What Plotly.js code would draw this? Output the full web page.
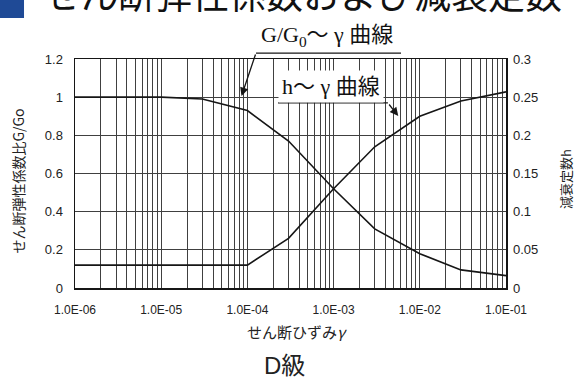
<!DOCTYPE html>
<html>
<head>
<meta charset="utf-8">
<script src="https://cdn.plot.ly/plotly-3.0.1.min.js"></script>
<style>
  html, body { margin: 0; padding: 0; background: #fff; overflow: hidden; }
  #chart { width: 576px; height: 379px; }
</style>
</head>
<body>
<div id="chart"></div>
<script>
// Shear strain levels (log scale)
const strain = [1e-6, 1e-5, 3e-5, 1e-4, 3e-4, 1e-3, 3e-3, 1e-2, 3e-2, 1e-1];
// Shear modulus ratio G/G0 (left axis)
const gRatio = [1.0, 1.0, 0.99, 0.93, 0.77, 0.52, 0.31, 0.18, 0.095, 0.065];
// Damping ratio h (right axis)
const damping = [0.03, 0.03, 0.03, 0.03, 0.065, 0.13, 0.185, 0.225, 0.245, 0.257];

// Axis tick labels
const decadeLabels = ['1.0E-06', '1.0E-05', '1.0E-04', '1.0E-03', '1.0E-02', '1.0E-01'];
const leftTicks = [0, 0.2, 0.4, 0.6, 0.8, 1.0, 1.2];
const leftTickText = ['0', '0.2', '0.4', '0.6', '0.8', '1', '1.2'];
const rightTicks = [0, 0.05, 0.1, 0.15, 0.2, 0.25, 0.3];
const rightTickText = ['0', '0.05', '0.1', '0.15', '0.2', '0.25', '0.3'];

// Log grid: a line at every 1..9 x 10^e, labels only on the decades
const xTickVals = [], xTickText = [];
for (let e = -6; e <= -1; e++) {
  for (let d = 1; d <= 9; d++) {
    if (e === -1 && d > 1) break;
    xTickVals.push(d * Math.pow(10, e));
    xTickText.push(d === 1 ? decadeLabels[e + 6] : '');
  }
}

const INK = '#161616';
const GRID = '#404040';
const SANS = 'Liberation Sans, Arial, sans-serif';
const JP = 'Noto Sans CJK JP, sans-serif';
const SERIF = 'Liberation Serif, Noto Sans CJK JP, serif';

const traces = [
  { x: strain, y: gRatio, yaxis: 'y', type: 'scatter', mode: 'lines',
    line: { color: INK, width: 1.6 }, hoverinfo: 'skip', showlegend: false },
  { x: strain, y: damping, yaxis: 'y2', type: 'scatter', mode: 'lines',
    line: { color: INK, width: 1.6 }, hoverinfo: 'skip', showlegend: false }
];

const layout = {
  width: 576, height: 379,
  margin: { l: 75, r: 70, t: 59, b: 91, pad: 0 },
  paper_bgcolor: '#fff', plot_bgcolor: '#fff',
  showlegend: false,
  xaxis: {
    type: 'log', range: [-6, -1],
    tickmode: 'array', tickvals: xTickVals, ticktext: xTickText,
    showgrid: true, gridcolor: GRID, gridwidth: 1,
    showline: true, linecolor: INK, linewidth: 1.5, mirror: true,
    ticks: '', zeroline: false, ticklabelstandoff: 10,
    tickfont: { family: SANS, size: 12, color: '#222' }
  },
  yaxis: {
    range: [0, 1.2], tickmode: 'array', tickvals: leftTicks, ticktext: leftTickText,
    showgrid: true, gridcolor: GRID, gridwidth: 1,
    showline: true, linecolor: INK, linewidth: 1.5, mirror: true,
    ticks: '', zeroline: false, ticklabelstandoff: 8,
    tickfont: { family: SANS, size: 13, color: '#222' }
  },
  yaxis2: {
    overlaying: 'y', side: 'right', range: [0, 0.3],
    tickmode: 'array', tickvals: rightTicks, ticktext: rightTickText,
    showgrid: false, showline: false, zeroline: false, ticks: '',
    ticklabelstandoff: 6,
    tickfont: { family: SANS, size: 13, color: '#222' }
  },
  shapes: [
    // blue heading marker
    { type: 'rect', xref: 'paper', yref: 'paper', x0: -0.18, x1: -0.1183, y0: 1.179, y1: 1.40,
      fillcolor: '#1f4a96', line: { width: 0 } },
    // underline of the G/G0 label
    { type: 'line', xref: 'paper', yref: 'paper', x0: 0.42, x1: 0.7564, y0: 1.026, y1: 1.026,
      line: { color: INK, width: 1.3 } },
    // underline of the h label
    { type: 'line', xref: 'paper', yref: 'paper', x0: 0.471, x1: 0.726, y0: 0.808, y1: 0.808,
      line: { color: INK, width: 1.3 } }
  ],
  annotations: [
    // heading
    { xref: 'paper', yref: 'paper', x: -0.076, y: 1.163, xanchor: 'left', yanchor: 'bottom',
      text: 'せん断弾性係数および減衰定数', showarrow: false,
      font: { family: JP, size: 37, color: '#111' } },
    // curve labels
    { xref: 'paper', yref: 'paper', x: 0.5858, y: 1.1, xanchor: 'center', yanchor: 'middle',
      text: 'G/G<sub>0</sub>〜 γ 曲線', showarrow: false,
      font: { family: SERIF, size: 22, color: '#111' } },
    { xref: 'paper', yref: 'paper', x: 0.594, y: 0.882, xanchor: 'center', yanchor: 'middle',
      text: 'h〜 γ 曲線', showarrow: false, bgcolor: '#fff', borderpad: 3,
      font: { family: SERIF, size: 22, color: '#111' } },
    // arrows
    { xref: 'paper', yref: 'paper', x: 0.3863, y: 0.8384, ax: 14.5, ay: -43, text: '',
      showarrow: true, arrowhead: 2, arrowsize: 1.3, arrowwidth: 1.3, arrowcolor: INK },
    { xref: 'paper', yref: 'paper', x: 0.750, y: 0.751, ax: -10.3, ay: -13, text: '',
      showarrow: true, arrowhead: 2, arrowsize: 1.3, arrowwidth: 1.3, arrowcolor: INK },
    // axis titles
    { xref: 'paper', yref: 'paper', x: -0.1323, y: 0.469, xanchor: 'center', yanchor: 'middle',
      textangle: -90, text: 'せん断弾性係数比G/Go', showarrow: false,
      font: { family: JP, size: 14, color: '#222' } },
    { xref: 'paper', yref: 'paper', x: 1.139, y: 0.476, xanchor: 'center', yanchor: 'middle',
      textangle: -90, text: '減衰定数h', showarrow: false,
      font: { family: JP, size: 13, color: '#222' } },
    { xref: 'paper', yref: 'paper', x: 0.514, y: -0.191, xanchor: 'center', yanchor: 'middle',
      text: 'せん断ひずみ<i>γ</i>', showarrow: false,
      font: { family: JP, size: 15, color: '#222' } },
    { xref: 'paper', yref: 'paper', x: 0.487, y: -0.34, xanchor: 'center', yanchor: 'middle',
      text: 'D級', showarrow: false,
      font: { family: SANS + ', ' + JP, size: 24, color: '#222' } }
  ]
};

Plotly.newPlot('chart', traces, layout, { staticPlot: true, displayModeBar: false });
</script>
</body>
</html>
